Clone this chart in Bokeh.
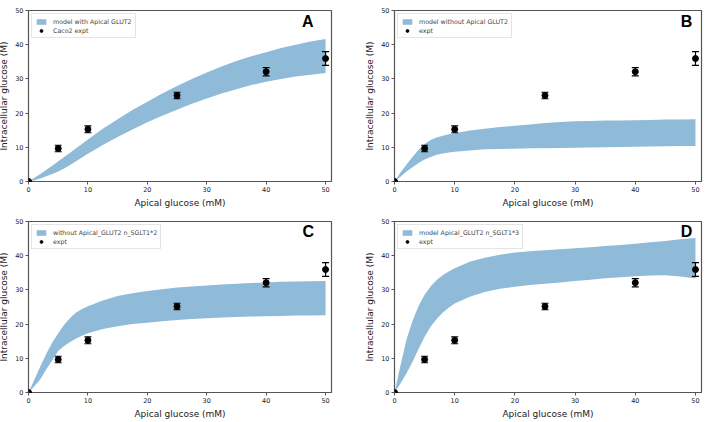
from bokeh.plotting import figure
from bokeh.layouts import gridplot
from bokeh.models import ColumnDataSource, Legend, LegendItem, Label, FixedTicker
from bokeh.embed import file_html
from bokeh.resources import INLINE

# experimental data (same in all panels)
expt_x = [0, 5, 10, 25, 40, 50]
expt_y = [0, 9.65, 15.25, 25.15, 32.1, 35.95]
expt_err = [0, 0.95, 1.0, 0.95, 1.2, 2.0]

# model bands (apical glucose, mM)
model_x = [0, 1, 2, 3, 4, 5, 6, 7, 8, 9, 10, 12.5, 15, 17.5, 20, 22.5, 25,
           27.5, 30, 32.5, 35, 37.5, 40, 42.5, 45, 47.5, 50]
a_upper = [0, 1.1, 2.2, 3.4, 4.6, 5.9, 7.2, 8.4, 9.7, 11.0, 12.3, 15.4, 18.2, 20.9, 23.3,
           25.7, 27.9, 30.0, 31.9, 33.6, 35.2, 36.6, 37.8, 39.0, 40.0, 40.9, 41.7]
a_lower = [0, 0.4, 0.9, 1.5, 2.2, 2.9, 3.8, 4.8, 5.9, 7.0, 8.1, 10.7, 13.0, 15.2, 17.3,
           19.2, 21.0, 22.7, 24.3, 25.7, 27.0, 28.2, 29.2, 30.0, 30.7, 31.2, 31.7]
b_upper = [0, 2.6, 5.0, 7.2, 9.3, 11.0, 12.1, 12.9, 13.4, 13.8, 14.1, 14.9, 15.4, 15.9, 16.3,
           16.7, 17.1, 17.4, 17.6, 17.7, 17.8, 17.85, 17.9, 18.0, 18.1, 18.15, 18.2]
b_lower = [0, 1.4, 2.9, 4.2, 5.4, 6.4, 7.2, 7.8, 8.2, 8.5, 8.7, 9.1, 9.4, 9.5, 9.6,
           9.7, 9.75, 9.8, 9.9, 9.95, 10.0, 10.1, 10.15, 10.2, 10.3, 10.35, 10.4]
c_upper = [0, 3.8, 7.7, 11.3, 14.6, 17.3, 19.8, 21.8, 23.4, 24.4, 25.2, 26.9, 28.2, 29.0, 29.7,
           30.2, 30.7, 31.0, 31.3, 31.6, 31.8, 32.0, 32.2, 32.35, 32.45, 32.55, 32.6]
c_lower = [0, 1.8, 3.9, 6.8, 9.4, 12.1, 13.6, 14.8, 15.8, 16.6, 17.3, 18.6, 19.4, 20.0, 20.4,
           20.8, 21.2, 21.5, 21.7, 21.9, 22.1, 22.2, 22.3, 22.4, 22.5, 22.55, 22.6]
d_upper = [0, 8.0, 15.5, 21.0, 25.3, 28.6, 31.0, 32.9, 34.3, 35.4, 36.3, 38.2, 39.4, 40.3, 40.9,
           41.3, 41.6, 41.9, 42.2, 42.5, 42.8, 43.1, 43.5, 43.9, 44.3, 44.8, 45.2]
d_lower = [0, 2.6, 5.6, 9.0, 12.7, 16.3, 19.2, 21.5, 23.3, 24.8, 26.0, 28.0, 29.4, 30.3, 30.9,
           31.4, 31.8, 32.2, 32.6, 33.0, 33.4, 33.7, 34.0, 34.2, 34.3, 33.9, 33.3]

panels = [
    ("model with Apical GLUT2", "Caco2 expt", a_upper, a_lower, "A", 47.0, 46.7),
    ("model without Apical GLUT2", "expt", b_upper, b_lower, "B", 48.5, 46.8),
    ("without Apical_GLUT2 n_SGLT1*2", "expt", c_upper, c_lower, "C", 47.1, 47.2),
    ("model Apical_GLUT2 n_SGLT1*3", "expt", d_upper, d_lower, "D", 48.5, 47.2),
]

x_ticks = [0, 10, 20, 30, 40, 50]
y_ticks = [0, 10, 20, 30, 40, 50]

BAND = "#8fbbd9"
SPINE = "#555555"

def make_panel(i, band_label, expt_label, upper, lower, letter, lx, ly):
    left_col = (i % 2 == 0)
    w = 365 if left_col else 344
    p = figure(width=w, height=211, x_range=(0, 51), y_range=(0, 50),
               output_backend="svg", toolbar_location=None,
               min_border_left=28 if left_col else 33,
               min_border_right=30 if left_col else 4,
               min_border_top=11, min_border_bottom=24)
    p.grid.visible = False
    p.outline_line_color = SPINE
    p.outline_line_width = 1.2
    band_src = ColumnDataSource(dict(x=model_x, y1=lower, y2=upper))
    band = p.varea(x="x", y1="y1", y2="y2", source=band_src, fill_color=BAND, fill_alpha=1.0)

    e_src = ColumnDataSource(dict(
        x=expt_x, y=expt_y,
        lo=[y - e for y, e in zip(expt_y, expt_err)],
        hi=[y + e for y, e in zip(expt_y, expt_err)],
    ))
    p.segment(x0="x", y0="lo", x1="x", y1="hi", source=e_src, line_color="black", line_width=1.2)
    p.scatter(x="x", y="lo", source=e_src, marker="dash", size=7, line_color="black", line_width=1.2)
    p.scatter(x="x", y="hi", source=e_src, marker="dash", size=7, line_color="black", line_width=1.2)
    pts = p.scatter(x="x", y="y", source=e_src, marker="circle", size=6, fill_color="black", line_color="black")

    for ax in (p.xaxis[0], p.yaxis[0]):
        ax.axis_line_color = None
        ax.major_tick_line_color = SPINE
        ax.minor_tick_line_color = None
        ax.major_tick_out = 3
        ax.major_tick_in = 0
        ax.major_label_text_font = "DejaVu Sans"
        ax.major_label_text_font_size = "6.5px"
        ax.major_label_text_color = "#222222"
        ax.major_label_standoff = 2
        ax.axis_label_text_font = "DejaVu Sans"
        ax.axis_label_text_font_size = "9px"
        ax.axis_label_text_font_style = "normal"
        ax.axis_label_text_color = "#222222"
        ax.axis_label_standoff = 3
    p.xaxis[0].ticker = FixedTicker(ticks=x_ticks)
    p.yaxis[0].ticker = FixedTicker(ticks=y_ticks)
    p.xaxis[0].axis_label = "Apical glucose (mM)"
    p.yaxis[0].axis_label = "Intracellular glucose (M)"

    legend = Legend(items=[LegendItem(label=band_label, renderers=[band]),
                           LegendItem(label=expt_label, renderers=[pts])],
                    location="top_left", margin=3, padding=3, spacing=1,
                    label_text_font="DejaVu Sans", label_text_font_size="6.3px",
                    label_height=8, glyph_height=7, glyph_width=12, label_standoff=6,
                    border_line_color="#cccccc", border_line_width=1,
                    background_fill_alpha=0.8)
    p.add_layout(legend)

    p.add_layout(Label(x=lx, y=ly, text=letter, text_font="Liberation Sans",
                       text_font_style="bold", text_font_size="16px",
                       text_align="center", text_baseline="middle", text_color="black"))
    return p

figs = [make_panel(i, *pn) for i, pn in enumerate(panels)]
grid = gridplot([[figs[0], figs[1]], [figs[2], figs[3]]], toolbar_location=None)
grid.styles = {"margin-top": "-1px", "margin-bottom": "-4px",
               "margin-left": "-4px", "margin-right": "-4px"}

open("out.html", "w").write(file_html(grid, INLINE))
